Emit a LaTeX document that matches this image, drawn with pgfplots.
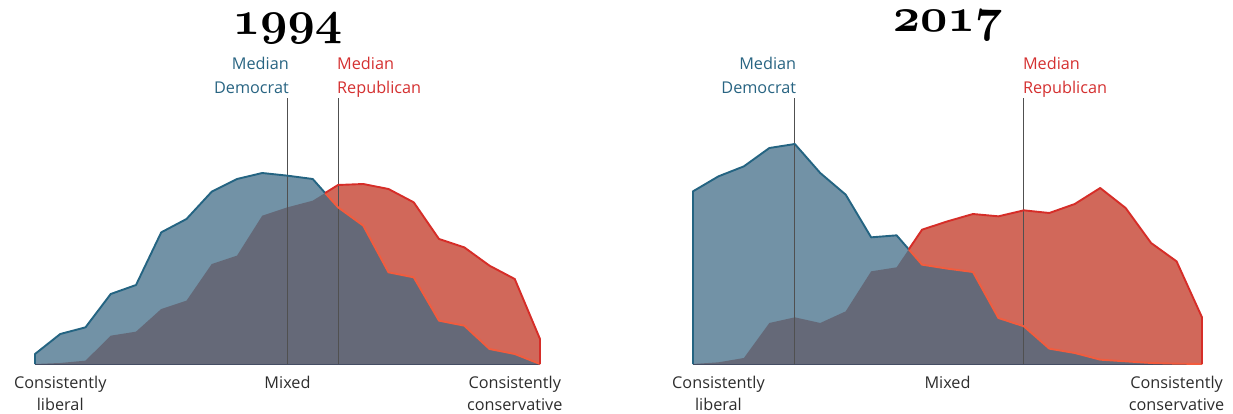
\documentclass[border=0pt]{standalone}
\usepackage{fontspec}
\usepackage{graphicx}
\usepackage{pgfplots}
\pgfplotsset{compat=1.18}
\newfontfamily\labelfont{Open Sans}
\definecolor{bluefill}{RGB}{114,146,166}
\definecolor{redfill}{RGB}{209,104,90}
\definecolor{overfill}{RGB}{101,105,120}
\definecolor{blueline}{RGB}{36,100,130}
\definecolor{redline}{RGB}{214,45,40}
\definecolor{orangeline}{RGB}{242,92,62}
\definecolor{baseln}{RGB}{38,58,88}
\definecolor{medline}{RGB}{80,80,80}
\definecolor{demtext}{RGB}{40,100,130}
\definecolor{reptext}{RGB}{212,48,48}
\definecolor{labtext}{RGB}{45,45,45}
\newcommand\titlefont{\fontsize{24.88}{26}\usefont{OML}{cmm}{b}{it}}
\newcommand\ttl[1]{\scalebox{1.92}{#1}}
\tikzset{
  dem/.style={font=\labelfont\fontsize{16.3}{22}\selectfont, text=demtext, inner sep=0pt},
  rep/.style={font=\labelfont\fontsize{16.3}{22}\selectfont, text=reptext, inner sep=0pt},
}
\pgfplotsset{
  panel/.style={
    scale only axis, width=505bp, height=270bp,
    xmin=0, xmax=20, ymin=0, ymax=810,
    axis x line*=bottom, axis y line=none,
    x axis line style={draw=baseln, line width=1.6bp},
    xtick={1,10,19}, major tick length=0pt,
    xticklabels={{Consistently\\liberal},{Mixed},{Consistently\\conservative}},
    xticklabel style={align=center, font=\labelfont\fontsize{16.3}{22}\selectfont, text=labtext, inner sep=0pt, yshift=-12bp},
    ytick=\empty,
    clip=false,
    title style={at={(0.5,1)}, anchor=base, yshift=54bp, inner sep=0pt, font=\titlefont},
  },
  redarea/.style={fill=redfill, draw=none},
  bluearea/.style={fill=bluefill, draw=none},
  overarea/.style={fill=overfill, draw=none},
  medianl/.style={draw=medline, line width=1bp},
  bl/.style={draw=blueline, line width=1.9bp, line join=round},
  ol/.style={draw=orangeline, line width=1.9bp, line join=round},
  rl/.style={draw=redline, line width=1.9bp, line join=round},
}
\begin{document}
\begin{tikzpicture}
\useasboundingbox (0,0) rectangle (1233bp,414bp);
% ---------------- 1994 ----------------
\begin{axis}[panel, at={(35bp,50bp)}, anchor=south west, title={\ttl{1994}}]
\addplot[redarea] coordinates {(0,0)(1,3)(2,10)(3,85)(4,97)(5,165)(6,190)(7,300)(8,325)(9,445)(10,470)(11,490)(12,537)(13,540)(14,525)(15,485)(16,375)(17,350)(18,295)(19,255)(20,75)} \closedcycle;
\addplot[bluearea] coordinates {(0,30)(1,90)(2,110)(3,210)(4,237)(5,395)(6,435)(7,517)(8,555)(9,573)(10,565)(11,555)(12,470)(13,415)(14,275)(15,260)(16,130)(17,115)(18,45)(19,30)(20,0)} \closedcycle;
\addplot[overarea] coordinates {(0,0)(1,3)(2,10)(3,85)(4,97)(5,165)(6,190)(7,300)(8,325)(9,445)(10,470)(11,490)(11.49,513)(12,470)(13,415)(14,275)(15,260)(16,130)(17,115)(18,45)(19,30)(20,0)} \closedcycle;
\addplot[medianl] coordinates {(10,0)(10,798)};
\addplot[medianl] coordinates {(12,0)(12,798)};
\addplot[bl] coordinates {(0,0)(0,30)(1,90)(2,110)(3,210)(4,237)(5,395)(6,435)(7,517)(8,555)(9,573)(10,565)(11,555)(11.49,513)};
\addplot[ol] coordinates {(11.49,513)(12,470)(13,415)(14,275)(15,260)(16,130)(17,115)(18,45)(19,30)(20,0)};
\addplot[rl] coordinates {(11.49,513)(12,537)(13,540)(14,525)(15,485)(16,375)(17,350)(18,295)(19,255)(20,75)(20,0)};
\node[dem, anchor=base east, xshift=1.5bp, yshift=5bp] at (axis cs:10,798) {Democrat};
\node[dem, anchor=base east, xshift=1.5bp, yshift=28bp] at (axis cs:10,798) {Median};
\node[rep, anchor=base west, xshift=-1bp, yshift=5bp] at (axis cs:12,798) {Republican};
\node[rep, anchor=base west, xshift=-1bp, yshift=28bp] at (axis cs:12,798) {Median};
\end{axis}
% ---------------- 2017 ----------------
\begin{axis}[panel, at={(693bp,50bp)}, anchor=south west, width=509bp, title={\ttl{2017}}, title style={yshift=3bp}]
\addplot[redarea] coordinates {(0,0)(1,5)(2,18)(3,123)(4,140)(5,123)(6,158)(7,278)(8,290)(9,403)(10,428)(11,450)(12,443)(13,461)(14,453)(15,480)(16,528)(17,468)(18,363)(19,308)(20,140)} \closedcycle;
\addplot[bluearea] coordinates {(0,518)(1,563)(2,593)(3,648)(4,660)(5,573)(6,508)(7,380)(8,386)(9,298)(10,286)(11,276)(12,138)(13,113)(14,46)(15,33)(16,13)(17,8)(18,3)(19,1)(20,0)} \closedcycle;
\addplot[overarea] coordinates {(0,0)(1,5)(2,18)(3,123)(4,140)(5,123)(6,158)(7,278)(8,290)(8.478,344)(9,298)(10,286)(11,276)(12,138)(13,113)(14,46)(15,33)(16,13)(17,8)(18,3)(19,1)(20,0)} \closedcycle;
\addplot[medianl] coordinates {(4,0)(4,798)};
\addplot[medianl] coordinates {(13,0)(13,798)};
\addplot[bl] coordinates {(0,0)(0,518)(1,563)(2,593)(3,648)(4,660)(5,573)(6,508)(7,380)(8,386)(8.478,344)};
\addplot[ol] coordinates {(8.478,344)(9,298)(10,286)(11,276)(12,138)(13,113)(14,46)(15,33)(16,13)(17,8)(18,3)(19,1)(20,0)};
\addplot[rl] coordinates {(8.478,344)(9,403)(10,428)(11,450)(12,443)(13,461)(14,453)(15,480)(16,528)(17,468)(18,363)(19,308)(20,140)(20,0)};
\node[dem, anchor=base east, xshift=1.5bp, yshift=5bp] at (axis cs:4,798) {Democrat};
\node[dem, anchor=base east, xshift=1.5bp, yshift=28bp] at (axis cs:4,798) {Median};
\node[rep, anchor=base west, xshift=-1bp, yshift=5bp] at (axis cs:13,798) {Republican};
\node[rep, anchor=base west, xshift=-1bp, yshift=28bp] at (axis cs:13,798) {Median};
\end{axis}
\end{tikzpicture}
\end{document}
